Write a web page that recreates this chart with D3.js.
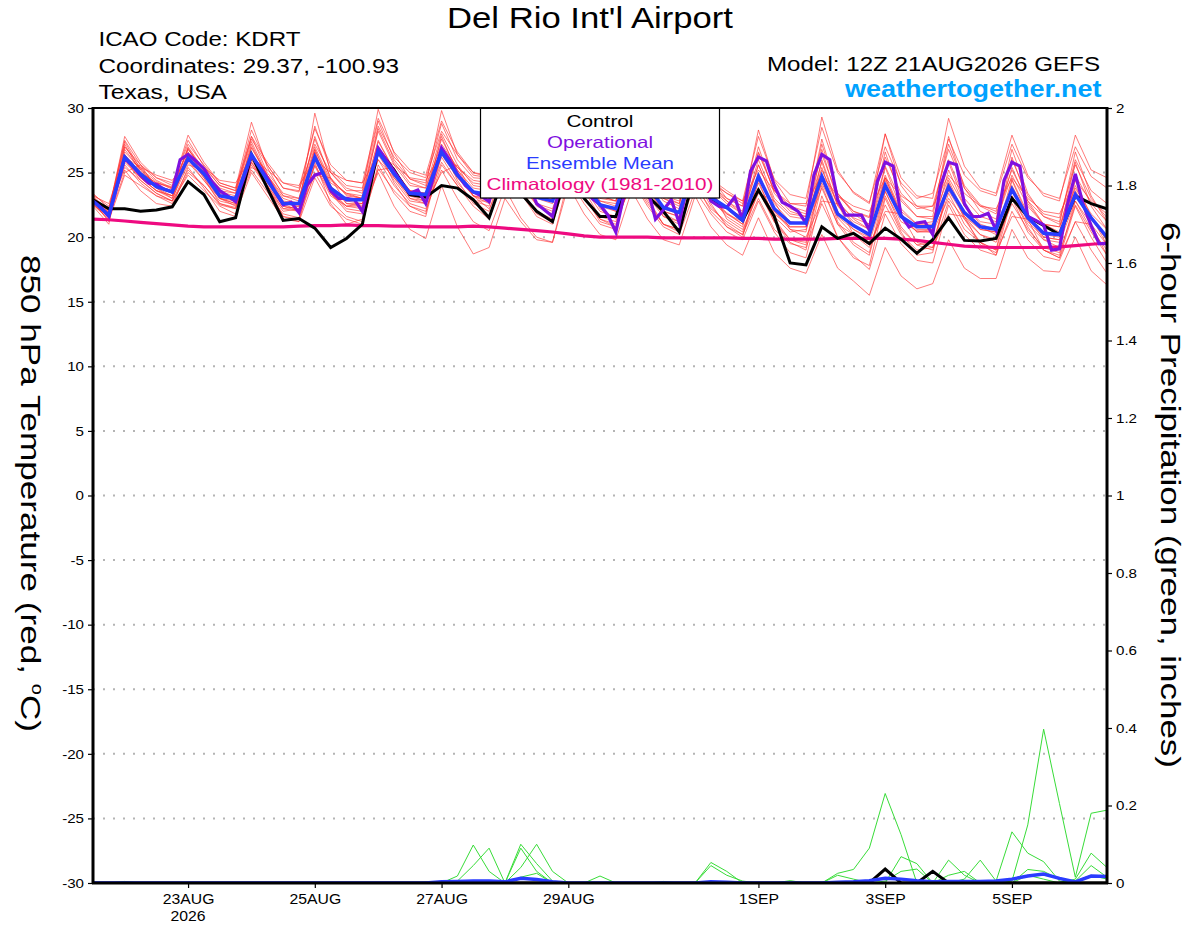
<!DOCTYPE html>
<html><head><meta charset="utf-8">
<script src="https://cdn.jsdelivr.net/npm/d3@7"></script>
<style>
html,body{margin:0;padding:0;background:#fff;}
svg{display:block;font-family:"Liberation Sans",Arial,Helvetica,sans-serif;}
</style></head><body>
<svg id="chart" width="1200" height="927"></svg>
<script>
// ---------------- DATA ----------------
const runStart = "2026-08-21T12:00:00Z";
const runEnd   = "2026-09-06T12:00:00Z";

const tempTicks = [-30,-25,-20,-15,-10,-5,0,5,10,15,20,25,30];
const tempTickLabels = ["-30","-25","-20","-15","-10","-5","0","5","10","15","20","25","30"];
const gridTemps = [-25,-20,-15,-10,-5,0,5,10,15,20,25];
const precipTicks = [0,0.2,0.4,0.6,0.8,1,1.2,1.4,1.6,1.8,2];
const precipTickLabels = ["0","0.2","0.4","0.6","0.8","1","1.2","1.4","1.6","1.8","2"];
const xTickDates = ["2026-08-23T00:00:00Z","2026-08-25T00:00:00Z","2026-08-27T00:00:00Z","2026-08-29T00:00:00Z","2026-09-01T00:00:00Z","2026-09-03T00:00:00Z","2026-09-05T00:00:00Z"];
const xTickLabels = ["23AUG","25AUG","27AUG","29AUG","1SEP","3SEP","5SEP"];

// 6-hourly ensemble mean 850 hPa temperature (C)
const ensMean = [22.8,21.7, 26.2,24.9,23.9,23.5, 26.1,24.9,23.2,23.0, 26.4,24.4,22.6,22.6, 26.2,23.8,22.9,22.9,
  26.6,24.9,23.4,23.3, 26.6,24.8,23.5,23.3, 26.0,24.5,23.1,22.8, 25.8,24.2,22.5,22.2, 25.6,24.0,22.3,21.9,
  25.6,23.1,22.3,21.3, 24.7,22.2,21.1,21.1, 24.7,21.8,20.9,20.2, 24.0,21.6,20.8,20.8, 23.9,21.9,20.8,20.6,
  23.7,21.5,20.3,20.2, 23.3,21.5,20.0];

// 6-hourly control run
const control = [22.9,22.2, 22.2,22.0,22.1,22.35, 24.3,23.3,21.2,21.5, 26.4,23.8,21.3,21.45, 20.7,19.2,19.9,21.0,
  26.8,25.2,23.3,23.1, 24.0,23.8,22.9,21.5, 25.0,23.4,22.0,21.2, 25.5,23.0,21.6,21.6, 25.0,23.2,22.0,20.4,
  25.0,22.9,22.3,21.3, 23.65,21.6,18.0,17.85, 20.8,19.9,20.3,19.5, 20.7,19.85,18.75,19.8, 21.5,19.75,19.7,19.9,
  23.0,21.6,20.9,20.2, 23.2,22.6,22.2];

// 3-hourly operational run
const operational = [22.8,22.3,21.6,23.9,26.1,25.5,24.8,24.2,24.1,23.7,
  23.5,26.0,26.4,25.9,25.3,24.3,23.6,23.2,22.75,24.5,
  26.3,25.5,24.6,23.5,22.5,22.7,21.9,24.0,24.8,25.0,
  23.6,23.0,23.0,22.9,22.0,24.4,26.9,26.0,25.1,24.2,
  23.4,23.65,22.6,24.7,26.9,26.0,24.9,24.0,23.5,23.2,
  22.75,24.8,26.5,25.8,25.0,24.2,22.6,22.1,21.6,24.0,
  26.0,25.5,24.5,23.0,22.5,21.7,20.4,23.2,25.5,25.0,
  23.8,21.4,22.1,22.9,21.1,24.0,25.8,24.5,22.8,22.4,
  22.3,23.1,21.3,25.1,26.2,25.9,24.0,22.7,22.4,22.0,
  21.1,24.8,26.4,26.0,22.9,21.7,21.7,21.7,20.55,24.3,
  25.8,25.5,21.7,20.8,21.1,21.2,20.2,24.0,25.8,25.6,
  22.6,21.6,21.6,21.85,20.55,24.4,25.8,25.5,21.6,21.3,
  20.95,19.0,19.1,22.5,24.9,22.5,20.9,19.5,19.5];

// 6-hourly climatology (1981-2010)
const climatology = [21.4,21.35, 21.25,21.15,21.05,20.95, 20.85,20.8,20.8,20.8, 20.8,20.8,20.8,20.85, 20.9,20.9,20.95,20.9,
  20.9,20.85,20.85,20.8, 20.8,20.8,20.85,20.8, 20.7,20.6,20.5,20.4, 20.25,20.1,20.0,20.0, 20.0,20.0,19.95,19.95,
  19.95,19.95,19.95,19.9, 19.9,19.85,19.85,19.85, 19.85,19.9,19.9,19.9, 19.9,19.85,19.75,19.6, 19.45,19.3,19.25,19.2,
  19.2,19.2,19.2,19.25, 19.35,19.45,19.55];

// 6-hourly ensemble members (thin red)
const member01 = [23.2,22.0, 27.8,25.8,24.6,24.0, 27.5,25.5,24.0,23.6, 28.3,25.6,23.8,23.5, 28.6,25.2,24.0,23.8, 29.0,26.0,24.5,24.2, 28.8,26.0,24.6,24.5, 28.5,25.8,24.2,23.8, 28.0,25.3,23.5,23.6, 27.6,25.0,23.8,23.0, 27.4,24.5,23.6,22.8, 27.8,24.5,23.3,23.0, 28.5,25.0,23.5,22.7, 27.0,24.2,23.0,23.4, 27.6,24.8,23.6,23.2, 27.2,24.6,23.4,23.0, 27.0,24.7,23.8];
const member02 = [22.9,22.1, 27.2,25.0,24.2,23.9, 26.8,25.2,23.6,23.4, 27.4,24.8,23.2,22.8, 27.8,24.5,23.3,23.0, 27.5,25.2,23.6,23.1, 27.8,25.0,23.2,22.6, 26.5,24.0,22.5,22.0, 25.9,23.6,21.6,21.2, 24.8,22.8,21.0,20.6, 24.2,22.0,20.8,20.2, 23.0,20.6,19.5,19.2, 22.6,20.0,18.6,17.5, 21.8,19.5,18.2,18.0, 22.5,20.2,19.0,18.6, 22.0,19.8,18.5,18.2, 21.2,19.0,17.2];
const member03 = [22.6,21.3, 24.8,24.0,23.2,22.6, 25.0,24.0,22.5,22.2, 25.2,23.5,21.8,21.5, 25.0,22.8,21.6,21.2, 25.3,23.6,22.4,22.0, 25.6,24.0,22.8,22.8, 26.2,24.6,23.2,23.0, 26.8,25.0,23.2,22.8, 27.0,25.0,23.0,22.6, 27.5,24.6,23.0,22.4, 26.5,23.6,22.2,21.8, 27.2,23.4,22.0,21.5, 28.0,24.0,22.4,22.0, 27.2,24.0,22.5,22.0, 26.0,23.2,21.8,21.5, 25.6,23.0,21.5];
const member04 = [22.7,21.6, 26.8,25.2,24.0,23.4, 26.5,25.0,23.4,22.9, 27.2,24.6,22.6,22.4, 29.6,25.0,23.6,23.6, 29.9,26.5,24.5,24.0, 29.8,26.4,24.8,24.6, 28.6,25.6,24.0,23.5, 27.2,24.5,22.8,22.4, 26.5,24.0,22.0,21.6, 25.8,23.0,21.6,20.8, 25.0,22.0,20.6,20.4, 26.0,22.5,21.0,20.0, 24.6,21.8,20.4,20.6, 25.2,22.4,20.8,20.2, 24.5,21.8,20.0,19.8, 24.0,21.5,19.8];
const member05 = [23.0,21.9, 26.0,24.6,23.6,23.2, 25.8,24.4,22.8,22.5, 25.6,23.8,22.0,22.2, 25.5,23.2,22.4,22.6, 26.0,24.0,22.6,22.2, 25.2,23.0,21.2,20.5, 23.8,21.5,20.0,19.6, 24.5,22.6,21.0,20.6, 25.0,23.4,21.8,21.2, 25.5,23.0,21.9,21.0, 24.2,21.6,20.4,20.6, 23.8,21.0,20.2,19.6, 23.5,21.2,20.5,20.4, 23.0,21.4,20.2,19.8, 23.2,21.0,19.8,19.6, 22.8,21.0,19.4];
const member06 = [22.9,22.3, 25.2,23.6,22.6,22.4, 25.4,23.8,22.0,21.6, 26.5,24.0,21.6,21.2, 25.8,22.6,21.0,21.4, 27.0,24.6,23.0,22.8, 26.2,24.2,22.8,22.4, 27.0,25.0,23.4,22.8, 26.4,24.6,22.6,22.0, 25.2,23.2,21.6,21.2, 24.0,22.2,21.2,20.4, 23.8,21.2,19.8,19.4, 24.5,21.5,20.2,19.2, 22.5,20.2,19.0,19.2, 24.2,21.6,20.2,19.6, 22.6,20.6,19.2,18.8, 22.5,20.4,18.6];
const member07 = [23.4,22.2, 27.5,25.6,24.4,23.8, 27.9,25.8,24.2,23.8, 28.9,25.4,23.2,23.0, 27.0,24.4,23.4,23.2, 28.2,25.6,24.0,23.8, 27.2,25.4,24.2,24.0, 27.5,25.2,23.8,23.4, 26.6,24.6,23.0,22.8, 26.8,24.8,23.2,22.6, 26.8,24.0,23.0,22.4, 28.3,24.4,22.6,22.4, 29.3,25.2,23.4,22.6, 28.0,24.6,23.2,23.0, 29.2,25.5,23.8,23.4, 27.9,24.8,23.2,22.8, 27.9,25.2,24.6];
const member08 = [22.5,21.4, 25.6,24.2,23.2,22.8, 25.2,24.0,22.6,22.3, 25.8,23.8,22.2,22.0, 26.0,23.4,22.2,22.0, 25.0,22.4,20.6,19.9, 24.0,20.8,18.7,19.2, 23.0,21.2,19.8,19.6, 24.0,21.8,20.2,19.8, 23.6,21.4,19.8,19.4, 23.2,20.8,19.4,18.6, 21.5,18.8,17.6,17.2, 20.2,17.6,16.6,15.5, 19.2,17.0,16.0,16.4, 19.8,17.6,16.8,16.8, 20.6,18.4,17.4,17.3, 20.0,17.4,16.3];
const member09 = [23.1,22.0, 26.6,25.3,24.3,23.7, 26.8,25.2,23.5,23.2, 26.9,24.8,23.0,22.6, 26.8,24.2,23.4,23.0, 26.6,25.0,23.6,23.4, 26.9,25.2,23.8,23.6, 26.4,24.8,23.4,23.0, 26.0,24.4,22.8,22.6, 26.5,24.6,22.8,22.2, 26.2,23.8,22.6,21.8, 25.6,22.8,21.6,21.4, 25.2,22.6,21.5,21.0, 25.5,22.8,21.6,21.4, 24.6,22.4,21.2,21.0, 25.4,22.6,21.0,20.8, 24.8,22.6,21.2];
const member10 = [22.6,21.5, 25.0,25.6,23.8,23.0, 25.6,25.2,23.0,22.4, 25.4,24.8,22.6,22.0, 24.8,24.6,22.6,22.4, 25.2,25.4,23.0,22.6, 25.0,25.6,23.2,22.2, 24.6,24.8,22.4,21.8, 24.2,24.6,22.2,21.4, 24.0,24.0,21.6,21.0, 24.4,23.8,21.4,20.6, 23.4,22.8,20.6,20.0, 22.8,22.6,20.2,19.4, 22.0,21.8,19.6,19.2, 21.8,21.6,19.4,18.8, 21.6,21.4,19.0,18.4, 21.2,21.0,18.6];
const member11 = [23.0,21.8, 26.4,25.0,24.2,23.8, 26.2,25.4,24.0,23.6, 27.6,25.6,23.8,23.6, 27.2,25.0,23.8,23.4, 28.6,26.2,25.0,24.6, 28.2,26.4,25.0,24.8, 27.6,25.8,24.6,24.2, 27.4,25.6,24.0,23.6, 27.0,25.0,23.2,22.8, 26.5,23.8,22.8,21.8, 26.0,23.0,21.8,21.6, 25.8,22.4,21.2,20.6, 24.8,22.0,21.0,21.2, 26.0,23.0,21.6,21.2, 24.8,22.4,21.0,20.8, 23.8,21.8,20.6];
const member12 = [22.8,21.2, 26.4,24.8,23.8,23.2, 26.2,24.6,23.0,22.6, 26.0,24.0,22.2,22.4, 26.4,23.6,22.8,22.6, 26.4,24.4,22.8,22.6, 25.8,24.0,22.4,21.4, 25.2,23.4,21.6,21.0, 25.0,23.0,21.4,20.8, 24.6,22.6,21.0,20.6, 24.6,22.4,21.0,20.2, 23.6,21.2,19.6,19.0, 24.0,21.0,19.4,18.6, 23.2,20.6,19.4,19.0, 22.8,20.6,19.6,18.6, 23.0,20.4,19.0,18.4, 22.4,20.0,18.0];
const member13 = [22.4,21.0, 27.0,25.4,24.0,23.4, 26.9,25.0,23.2,22.8, 27.0,24.8,22.8,22.6, 26.8,24.0,22.6,22.6, 27.4,25.2,23.6,23.4, 27.6,25.2,23.4,23.2, 27.0,24.8,23.0,22.6, 26.6,24.2,22.4,22.0, 26.2,24.0,22.2,21.8, 26.0,23.4,22.2,21.6, 25.6,22.6,21.2,21.0, 26.8,22.8,21.4,20.6, 25.4,22.2,21.0,21.0, 25.8,22.6,21.0,20.6, 26.2,22.8,21.0,20.4, 25.8,22.4,20.6];
const member14 = [23.3,22.4, 25.4,24.4,23.4,22.8, 24.8,23.6,22.4,21.8, 25.0,23.2,21.4,21.2, 24.6,22.4,21.4,21.0, 25.6,23.4,22.0,21.6, 26.4,24.6,23.4,23.4, 26.8,25.2,24.0,23.8, 27.4,25.4,23.8,23.4, 27.2,25.2,23.6,23.2, 26.6,24.4,23.4,22.6, 26.6,23.6,22.4,22.0, 26.4,23.2,22.0,21.6, 26.2,23.4,22.2,22.4, 26.8,23.8,22.4,21.8, 25.2,22.8,21.6,21.2, 26.0,23.6,22.6];
const member15 = [22.7,21.8, 26.0,24.4,23.4,22.8, 26.4,24.6,22.6,22.2, 26.6,23.8,21.6,21.4, 26.6,23.4,22.0,21.8, 26.8,24.2,22.4,21.8, 27.0,24.4,22.6,22.0, 26.0,23.8,21.8,21.2, 25.4,23.2,21.2,20.8, 25.0,23.0,21.0,20.4, 25.2,22.6,20.8,20.0, 24.4,21.4,19.8,19.6, 24.8,21.2,19.6,18.8, 23.6,20.8,19.4,19.6, 23.4,21.0,19.6,19.0, 23.2,20.8,19.0,18.6, 22.8,20.6,19.0];
const member16 = [23.0,22.2, 27.0,25.6,24.6,24.2, 27.2,25.6,24.2,23.8, 27.8,25.8,24.2,23.8, 28.4,25.6,24.4,24.2, 29.2,26.6,25.2,24.8, 29.0,26.6,25.0,24.6, 28.0,25.6,24.0,23.4, 26.8,24.4,22.6,22.2, 26.0,23.8,22.4,22.0, 25.4,22.8,21.8,21.2, 24.8,21.8,20.8,20.8, 25.4,22.0,20.6,19.8, 24.4,21.6,20.4,20.4, 24.4,21.8,20.6,20.4, 24.0,21.6,20.2,20.0, 23.6,21.4,19.8];
const member17 = [22.5,21.6, 26.3,24.6,23.6,23.0, 26.6,24.8,23.0,22.6, 25.8,24.0,22.4,22.0, 25.6,23.4,22.4,22.4, 26.0,24.6,23.2,23.0, 26.6,24.6,23.2,23.0, 25.6,24.0,22.6,22.2, 25.6,23.8,22.0,21.6, 25.8,23.8,22.0,21.6, 25.0,23.0,21.8,21.0, 24.6,22.0,20.8,20.8, 24.2,21.6,20.6,20.0, 24.6,21.8,20.6,20.6, 23.6,21.6,20.6,20.4, 23.6,21.2,20.0,19.8, 23.4,21.4,19.8];
const member18 = [23.2,22.6, 26.2,25.4,24.8,24.4, 26.0,25.4,24.4,24.2, 26.2,25.2,24.2,24.0, 26.0,25.0,24.4,24.2, 26.4,25.6,24.6,24.4, 26.6,25.4,24.4,24.2, 26.2,25.2,24.2,24.0, 25.8,25.0,23.8,23.6, 25.8,24.8,23.6,23.4, 25.6,24.2,23.4,22.8, 25.2,23.6,22.6,22.6, 24.8,23.2,22.4,22.0, 24.6,23.2,22.4,22.4, 24.8,23.4,22.4,22.2, 24.6,23.0,22.0,21.8, 24.4,22.8,21.8];
const member19 = [22.6,21.8, 25.8,24.6,23.6,23.2, 26.0,24.4,23.0,22.8, 26.2,24.2,22.4,22.2, 26.6,23.6,22.4,22.2, 27.0,24.8,23.2,22.8, 26.8,24.8,23.2,22.8, 25.6,23.6,22.0,21.4, 25.0,23.0,21.4,21.0, 24.4,22.4,20.8,20.2, 23.6,21.8,20.4,19.8, 22.8,20.4,18.8,18.4, 23.2,20.0,18.4,17.8, 23.0,20.4,18.6,18.8, 24.2,21.4,19.6,19.0, 24.4,21.6,19.8,19.2, 24.4,21.6,19.4];
const member20 = [22.9,21.9, 27.4,25.2,24.0,23.6, 27.0,25.2,23.8,23.4, 27.8,25.0,23.4,23.0, 27.6,24.6,23.2,23.0, 28.4,25.8,24.2,23.8, 28.0,25.6,24.0,23.8, 27.2,25.0,23.6,23.2, 27.0,24.8,23.2,22.8, 27.4,24.8,23.0,22.4, 27.8,24.2,22.8,22.0, 27.0,23.4,22.0,21.6, 27.6,23.4,21.8,21.0, 26.6,23.0,21.6,21.6, 27.8,23.8,22.0,21.4, 26.8,23.4,21.6,21.0, 26.6,23.2,21.2];
const members = [member01,member02,member03,member04,member05,member06,member07,member08,member09,member10,
                 member11,member12,member13,member14,member15,member16,member17,member18,member19,member20];

// 6-hourly precipitation (inches): members (green), mean (blue), control (black)
const precip01 = [0,0,0.004,0,0,0,0,0,0,0, 0,0,0,0,0,0,0,0,0,0, 0,0,0,0.018,0.098,0.03,0,0,0,0, 0,0,0,0,0,0,0,0,0,0.053, 0.03,0,0,0,0,0,0,0.025,0.035,0.09, 0.231,0.125,0,0,0,0,0,0,0,0, 0,0,0,0,0];
const precip02 = [0,0,0,0,0,0,0,0,0,0, 0,0,0,0,0,0,0,0,0,0, 0,0,0,0.005,0.045,0.09,0,0,0,0, 0,0,0,0,0,0,0,0,0,0.045, 0.02,0.005,0,0,0,0,0,0,0,0, 0,0,0,0,0,0,0,0,0.005,0.15, 0.397,0.205,0.015,0.18,0.188];
const precip03 = [0,0,0,0,0,0,0,0,0,0, 0,0,0,0,0,0,0,0,0,0, 0,0,0,0,0,0,0,0.10,0.05,0.005, 0,0,0,0,0,0,0,0,0,0, 0,0,0,0,0,0,0,0,0,0, 0,0.068,0.05,0,0,0,0,0.005,0.132,0.077, 0.055,0.005,0,0,0];
const precip04 = [0,0,0,0,0,0,0,0,0,0, 0,0,0,0,0,0,0,0,0,0, 0,0,0,0,0,0,0,0.09,0.03,0, 0,0,0,0,0,0,0,0,0,0, 0,0,0,0,0,0,0,0,0,0, 0,0,0,0,0.059,0.02,0,0,0,0, 0,0,0.01,0.077,0.04];
const precip05 = [0,0,0,0,0,0,0,0,0,0, 0,0,0,0,0,0,0,0,0,0, 0,0,0,0,0,0,0,0.04,0.10,0.03, 0,0,0,0,0,0,0,0,0,0, 0,0,0,0,0,0,0,0,0,0, 0,0,0,0,0,0.01,0.059,0.005,0,0.035, 0.03,0.01,0,0,0];
const precip06 = [0,0,0,0,0,0,0,0,0,0, 0,0,0,0,0,0,0,0,0,0, 0,0,0,0,0,0,0,0.015,0.025,0, 0,0,0.018,0,0,0,0,0,0,0, 0,0,0,0,0,0,0,0.02,0.01,0, 0.005,0.03,0.036,0,0,0,0,0,0,0, 0,0,0.005,0.045,0.015];
const precip07 = [0,0,0,0,0,0,0,0,0,0, 0,0,0,0,0,0,0,0,0,0, 0,0.002,0,0,0,0,0,0,0,0, 0,0,0,0,0,0,0.004,0,0,0, 0,0,0,0,0.006,0,0,0,0,0, 0,0,0,0,0.02,0.03,0,0,0,0.02, 0.01,0,0.005,0.02,0.01];
const precipMembers = [precip01,precip02,precip03,precip04,precip05,precip06,precip07];
const precipMean = [0,0,0,0,0,0,0,0,0,0, 0,0,0,0,0,0,0,0,0,0, 0,0,0.003,0.004,0.005,0.005,0.003,0.012,0.009,0.003, 0,0,0,0,0,0,0,0,0,0.003, 0.002,0,0,0,0,0,0,0.002,0.003,0.006, 0.012,0.01,0.006,0.003,0.004,0.004,0.004,0.005,0.01,0.018, 0.023,0.012,0.003,0.018,0.017];
const precipControl = [0,0,0,0,0,0,0,0,0,0, 0,0,0,0,0,0,0,0,0,0, 0,0,0,0,0,0,0,0,0,0, 0,0,0,0,0,0,0,0,0,0, 0,0,0,0,0,0,0,0,0,0, 0.036,0,0,0.03,0,0,0,0,0,0, 0,0,0,0,0];

const legendItems = ["Control","Operational","Ensemble Mean","Climatology (1981-2010)"];
const legendColors = ["#000000","#7f10e0","#2a3cff","#ee0a80"];

// ---------------- CHART ----------------
const svg = d3.select("#chart");
const L = 93, R = 1107, T = 108, B = 883;
const t0 = new Date(runStart), t1 = new Date(runEnd);
const x = d3.scaleUtc().domain([t0, t1]).range([L, R]);
const yT = d3.scaleLinear().domain([-30, 30]).range([B, T]);
const yP = d3.scaleLinear().domain([0, 2]).range([B, T]);
const HOUR = 3600e3;
const time6 = i => new Date(t0.getTime() + i * 6 * HOUR);
const time3 = i => new Date(t0.getTime() + i * 3 * HOUR);

svg.append("defs").append("clipPath").attr("id","plotclip")
  .append("rect").attr("x", L).attr("y", T).attr("width", R - L).attr("height", B - T);

// gridlines
svg.append("g").selectAll("line").data(gridTemps).join("line")
  .attr("x1", L).attr("x2", R).attr("y1", d => yT(d)).attr("y2", d => yT(d))
  .attr("stroke", "#b4b4b4").attr("stroke-width", 2).attr("stroke-dasharray", "2,8");

const plot = svg.append("g").attr("clip-path", "url(#plotclip)");
const line6T = d3.line().x((d, i) => x(time6(i))).y(d => yT(d));
const line3T = d3.line().x((d, i) => x(time3(i))).y(d => yT(d));
const line6P = d3.line().x((d, i) => x(time6(i))).y(d => yP(d));

plot.append("g").selectAll("path").data(members).join("path")
  .attr("d", line6T).attr("fill", "none").attr("stroke", "#ff3030")
  .attr("stroke-width", 0.85).attr("stroke-opacity", 0.75);

plot.append("g").selectAll("path").data(precipMembers).join("path")
  .attr("d", line6P).attr("fill", "none").attr("stroke", "#38dc38").attr("stroke-width", 1);

plot.append("path").datum(climatology).attr("d", line6T).attr("fill", "none")
  .attr("stroke", legendColors[3]).attr("stroke-width", 3.2);
plot.append("path").datum(control).attr("d", line6T).attr("fill", "none")
  .attr("stroke", legendColors[0]).attr("stroke-width", 3).attr("stroke-linejoin", "miter");
plot.append("path").datum(operational).attr("d", line3T).attr("fill", "none")
  .attr("stroke", legendColors[1]).attr("stroke-width", 3.2);
plot.append("path").datum(ensMean).attr("d", line6T).attr("fill", "none")
  .attr("stroke", legendColors[2]).attr("stroke-width", 3.5);
plot.append("path").datum(precipControl).attr("d", line6P).attr("fill", "none")
  .attr("stroke", "#000").attr("stroke-width", 3);
plot.append("path").datum(precipMean).attr("d", line6P).attr("fill", "none")
  .attr("stroke", legendColors[2]).attr("stroke-width", 3.5);

// legend
const lg = svg.append("g");
lg.append("rect").attr("x", 480.5).attr("y", T).attr("width", 239).attr("height", 90)
  .attr("fill", "#fff").attr("stroke", "#000").attr("stroke-width", 1.2);
const legendY = [127, 148, 169, 190];
const legendW = [67, 106, 148, 227];
lg.selectAll("text").data(legendItems).join("text")
  .attr("x", 600).attr("y", (d, i) => legendY[i]).attr("text-anchor", "middle")
  .attr("font-size", 16.5).attr("fill", (d, i) => legendColors[i])
  .attr("textLength", (d, i) => legendW[i]).attr("lengthAdjust", "spacingAndGlyphs")
  .text(d => d);

// axes
function stretch(sel, f) {
  sel.each(function () {
    const w = this.getComputedTextLength();
    d3.select(this).attr("textLength", w * f).attr("lengthAdjust", "spacingAndGlyphs");
  });
}
const axL = svg.append("g").attr("transform", `translate(${L},0)`)
  .call(d3.axisLeft(yT).tickValues(tempTicks).tickSize(5).tickPadding(4)
        .tickFormat((d, i) => tempTickLabels[i]));
const axR = svg.append("g").attr("transform", `translate(${R},0)`)
  .call(d3.axisRight(yP).tickValues(precipTicks).tickSize(5).tickPadding(4)
        .tickFormat((d, i) => precipTickLabels[i]));
const axB = svg.append("g").attr("transform", `translate(0,${B})`)
  .call(d3.axisBottom(x).tickValues(xTickDates.map(d => new Date(d))).tickSize(5).tickPadding(5)
        .tickFormat((d, i) => xTickLabels[i]));
[axL, axR, axB].forEach(g => {
  g.select(".domain").remove();
  g.selectAll(".tick line").attr("stroke", "#000").attr("stroke-width", 1.2);
  g.selectAll("text").attr("fill", "#000").attr("font-family", "'Liberation Sans', Arial, sans-serif");
});
axL.selectAll("text").attr("font-size", 13.5);
axR.selectAll("text").attr("font-size", 13.5);
axB.selectAll("text").attr("font-size", 15);
stretch(axL.selectAll("text"), 1.12);
stretch(axR.selectAll("text"), 1.12);
stretch(axB.selectAll("text"), 1.05);

svg.append("text").attr("x", x(new Date(xTickDates[0]))).attr("y", 921).attr("text-anchor", "middle")
  .attr("font-size", 15).text("2026").call(s => stretch(s, 1.05));

// frame
svg.append("line").attr("x1", L).attr("x2", R).attr("y1", T).attr("y2", T).attr("stroke", "#000").attr("stroke-width", 2.2);
svg.append("line").attr("x1", L - 1).attr("x2", R + 1).attr("y1", B).attr("y2", B).attr("stroke", "#000").attr("stroke-width", 3);
svg.append("line").attr("x1", L).attr("x2", L).attr("y1", T - 1).attr("y2", B + 1).attr("stroke", "#000").attr("stroke-width", 3);
svg.append("line").attr("x1", R).attr("x2", R).attr("y1", T - 1).attr("y2", B + 1).attr("stroke", "#000").attr("stroke-width", 3);

// titles
function txt(s, xx, yy, size, anchor, len, extra) {
  const t = svg.append("text").attr("x", xx).attr("y", yy).attr("font-size", size)
    .attr("text-anchor", anchor).attr("fill", "#000").text(s);
  if (len) t.attr("textLength", len).attr("lengthAdjust", "spacingAndGlyphs");
  if (extra) extra(t);
  return t;
}
txt("Del Rio Int'l Airport", 590, 28, 29, "middle", 286);
txt("ICAO Code: KDRT", 98.5, 46, 20, "start", 202);
txt("Coordinates: 29.37, -100.93", 98.5, 72.5, 20, "start", 300.5);
txt("Texas, USA", 98.5, 99, 20, "start", 128.5);
txt("Model: 12Z 21AUG2026 GEFS", 767, 70.5, 20, "start", 333);
txt("weathertogether.net", 845, 96.5, 23, "start", 256.5, t => t.attr("font-weight", "bold").attr("fill", "#00a2ff"));

const yl = svg.append("text").attr("transform", "translate(21,493.5) rotate(90)")
  .attr("text-anchor", "middle").attr("font-size", 28).attr("fill", "#000")
  .attr("textLength", 477).attr("lengthAdjust", "spacingAndGlyphs");
yl.append("tspan").text("850 hPa Temperature (red, ");
yl.append("tspan").attr("font-size", 16).attr("dy", -11).text("o");
yl.append("tspan").attr("dy", 11).text("C)");

svg.append("text").attr("transform", "translate(1161,495) rotate(90)")
  .attr("text-anchor", "middle").attr("font-size", 28).attr("fill", "#000")
  .attr("textLength", 546).attr("lengthAdjust", "spacingAndGlyphs")
  .text("6-hour Precipitation (green, inches)");
</script></body></html>
